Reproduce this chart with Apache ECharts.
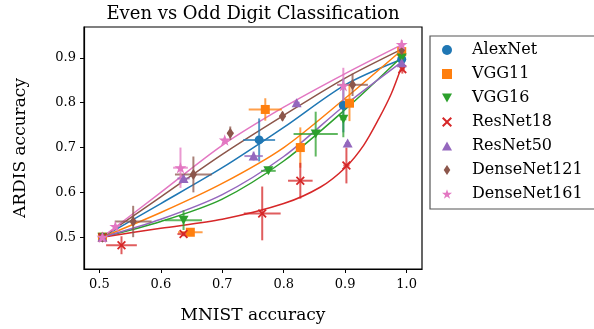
<!DOCTYPE html>
<html>
<head>
<meta charset="utf-8">
<script src="https://cdn.jsdelivr.net/npm/echarts@6/dist/echarts.min.js"></script>
<style>
  html, body { margin: 0; padding: 0; background: #fff; }
  #chart { width: 594px; height: 329px; }
</style>
</head>
<body>
<div id="chart"></div>
<script>
const models = ['AlexNet', 'VGG11', 'VGG16', 'ResNet18', 'ResNet50', 'DenseNet121', 'DenseNet161'];
const colors = ['#1f77b4', '#ff7f0e', '#2ca02c', '#d62728', '#9467bd', '#8c564b', '#e377c2'];
const xTicks = [0.5, 0.6, 0.7, 0.8, 0.9, 1.0];
const yTicks = [0.5, 0.6, 0.7, 0.8, 0.9];

// measured points: [mnist, ardis, mnist err, ardis err]
const alexnetPts = [[0.505, 0.50, 0.005, 0.005], [0.76, 0.717, 0.026, 0.048], [0.897, 0.794, 0.006, 0.06], [0.992, 0.897, 0.004, 0.02]];
const vgg11Pts = [[0.505, 0.50, 0.005, 0.005], [0.648, 0.511, 0.02, 0.005], [0.77, 0.785, 0.027, 0.025], [0.827, 0.70, 0.006, 0.045], [0.907, 0.799, 0.006, 0.04], [0.992, 0.914, 0.004, 0.015]];
const vgg16Pts = [[0.505, 0.50, 0.005, 0.005], [0.637, 0.538, 0.03, 0.022], [0.775, 0.648, 0.012, 0.006], [0.852, 0.73, 0.036, 0.05], [0.897, 0.763, 0.005, 0.04], [0.992, 0.90, 0.004, 0.015]];
const resnet18Pts = [[0.505, 0.50, 0.005, 0.005], [0.536, 0.482, 0.025, 0.02], [0.637, 0.507, 0.01, 0.005], [0.765, 0.553, 0.03, 0.06], [0.827, 0.626, 0.02, 0.04], [0.902, 0.66, 0.005, 0.04], [0.993, 0.875, 0.004, 0.01]];
const resnet50Pts = [[0.505, 0.50, 0.005, 0.005], [0.637, 0.631, 0.01, 0.01], [0.751, 0.681, 0.015, 0.01], [0.821, 0.80, 0.005, 0.005], [0.904, 0.71, 0.004, 0.004], [0.992, 0.889, 0.004, 0.01]];
const densenet121Pts = [[0.505, 0.50, 0.005, 0.005], [0.555, 0.535, 0.03, 0.035], [0.653, 0.64, 0.03, 0.04], [0.713, 0.732, 0.005, 0.015], [0.798, 0.77, 0.005, 0.01], [0.912, 0.84, 0.025, 0.025], [0.992, 0.918, 0.004, 0.01]];
const densenet161Pts = [[0.505, 0.50, 0.005, 0.005], [0.526, 0.524, 0.005, 0.005], [0.632, 0.655, 0.012, 0.045], [0.704, 0.717, 0.005, 0.005], [0.897, 0.838, 0.005, 0.04], [0.992, 0.93, 0.004, 0.01]];

// fitted curves
const alexnetFit = [[0.505, 0.50], [0.6, 0.575], [0.7, 0.655], [0.8, 0.745], [0.9, 0.84], [0.99, 0.896]];
const vgg11Fit = [[0.505, 0.50], [0.6, 0.555], [0.7, 0.62], [0.8, 0.70], [0.9, 0.81], [0.99, 0.915]];
const vgg16Fit = [[0.505, 0.50], [0.6, 0.535], [0.7, 0.585], [0.8, 0.67], [0.9, 0.785], [0.99, 0.90]];
const resnet18Fit = [[0.505, 0.50], [0.6, 0.52], [0.7, 0.54], [0.8, 0.575], [0.86, 0.612], [0.9, 0.655], [0.93, 0.705], [0.955, 0.765], [0.975, 0.82], [0.99, 0.874]];
const resnet50Fit = [[0.505, 0.50], [0.6, 0.54], [0.7, 0.595], [0.8, 0.68], [0.9, 0.795], [0.99, 0.889]];
const densenet121Fit = [[0.505, 0.50], [0.6, 0.59], [0.7, 0.685], [0.8, 0.772], [0.9, 0.855], [0.99, 0.918]];
const densenet161Fit = [[0.505, 0.50], [0.6, 0.60], [0.7, 0.705], [0.8, 0.79], [0.9, 0.865], [0.99, 0.928]];

const allPts = [alexnetPts, vgg11Pts, vgg16Pts, resnet18Pts, resnet50Pts, densenet121Pts, densenet161Pts];
const allFits = [alexnetFit, vgg11Fit, vgg16Fit, resnet18Fit, resnet50Fit, densenet121Fit, densenet161Fit];

const symbols = [
  'circle',
  'rect',
  'path://M0,0 L10,0 L5,9 Z',
  'path://M1.4,0 L5,3.6 L8.6,0 L10,1.4 L6.4,5 L10,8.6 L8.6,10 L5,6.4 L1.4,10 L0,8.6 L3.6,5 L0,1.4 Z',
  'path://M5,0 L10,9 L0,9 Z',
  'path://M3.3,0 L6.6,5 L3.3,10 L0,5 Z',
  'path://M5,0 L6.2,3.6 L10,3.6 L6.9,5.9 L8.1,9.5 L5,7.3 L1.9,9.5 L3.1,5.9 L0,3.6 L3.8,3.6 Z'
];
const symbolSizes = [9, 9, 10, 9, 10, 11, 12];

const serif = 'DejaVu Serif';
const chart = echarts.init(document.getElementById('chart'));

const series = [];
models.forEach((name, i) => {
  series.push({
    name: name + ' fit',
    type: 'line',
    data: allFits[i],
    smooth: 0.3,
    showSymbol: false,
    silent: true,
    lineStyle: { color: colors[i], width: 1.5 },
    z: 2
  });
  series.push({
    name: name + ' err',
    type: 'custom',
    data: allPts[i],
    silent: true,
    z: 3,
    renderItem(params, api) {
      const x = api.value(0), y = api.value(1), xe = api.value(2), ye = api.value(3);
      const l = api.coord([x - xe, y]), r = api.coord([x + xe, y]);
      const t = api.coord([x, y + ye]), b = api.coord([x, y - ye]);
      const st = { stroke: colors[i], lineWidth: 2, opacity: 0.75 };
      return {
        type: 'group',
        children: [
          { type: 'line', shape: { x1: l[0], y1: l[1], x2: r[0], y2: r[1] }, style: st },
          { type: 'line', shape: { x1: t[0], y1: t[1], x2: b[0], y2: b[1] }, style: st }
        ]
      };
    }
  });
  series.push({
    name: name,
    type: 'scatter',
    data: allPts[i].map(p => [p[0], p[1]]),
    symbol: symbols[i],
    symbolSize: symbolSizes[i],
    symbolKeepAspect: true,
    itemStyle: { color: colors[i], opacity: 1 },
    z: 4
  });
});

chart.setOption({
  animation: false,
  grid: { left: 84, right: 172, top: 27, bottom: 58, show: true, borderColor: '#000', borderWidth: 1.2 },
  graphic: [{
    type: 'text', x: 253, y: 14,
    style: { text: 'Even vs Odd Digit Classification', font: '18px "DejaVu Serif"', fill: '#000', textAlign: 'center', textVerticalAlign: 'middle' }
  }],
  legend: {
    orient: 'vertical', left: 430, top: 36,
    padding: [6, 30, 7, 12],
    itemGap: 8, itemWidth: 10, itemHeight: 10,
    borderColor: '#555', borderWidth: 1.2, backgroundColor: '#fff',
    textStyle: { fontFamily: serif, fontSize: 16, color: '#000', lineHeight: 16, padding: [0, 0, 0, 15] },
    data: models.map((m, i) => ({ name: m, icon: symbols[i] }))
  },
  xAxis: {
    type: 'value', min: 0.475, max: 1.025,
    name: 'MNIST accuracy', nameLocation: 'middle', nameGap: 38,
    nameTextStyle: { fontFamily: serif, fontSize: 17, color: '#000' },
    axisLine: { show: true, lineStyle: { color: '#000', width: 1.2 } },
    axisTick: { show: true, length: 4, customValues: xTicks, lineStyle: { color: '#000' } },
    axisLabel: { customValues: xTicks, margin: 9, fontFamily: serif, fontSize: 13, color: '#000', formatter: v => v.toFixed(1) },
    splitLine: { show: false }
  },
  yAxis: {
    type: 'value', min: 0.429, max: 0.969,
    name: 'ARDIS accuracy', nameLocation: 'middle', nameGap: 55, nameRotate: 90,
    nameTextStyle: { fontFamily: serif, fontSize: 17, color: '#000' },
    axisLine: { show: true, lineStyle: { color: '#000', width: 1.2 } },
    axisTick: { show: true, length: 4, customValues: yTicks, lineStyle: { color: '#000' } },
    axisLabel: { customValues: yTicks, margin: 8, fontFamily: serif, fontSize: 13, color: '#000', formatter: v => v.toFixed(1) },
    splitLine: { show: false }
  },
  series: series
});
</script>
</body>
</html>
